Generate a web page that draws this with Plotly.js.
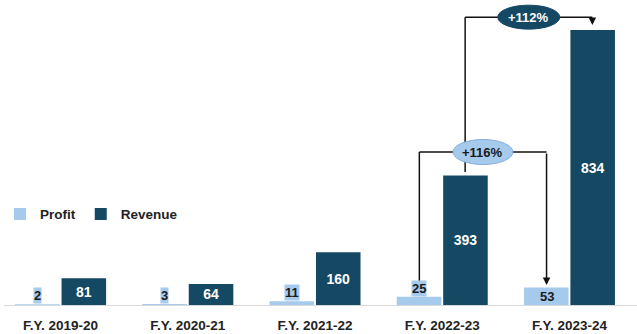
<!DOCTYPE html>
<html>
<head>
<meta charset="utf-8">
<script src="https://cdn.plot.ly/plotly-3.0.1.min.js"></script>
<style>html,body{margin:0;padding:0;background:#fff;}#chart{width:637px;height:334px;}</style>
</head>
<body>
<div id="chart"></div>
<script>
const categories = ["F.Y. 2019-20", "F.Y. 2020-21", "F.Y. 2021-22", "F.Y. 2022-23", "F.Y. 2023-24"];
const profit = [2, 3, 11, 25, 53];
const revenue = [81, 64, 160, 393, 834];
const growthLabels = ["+116%", "+112%"];

const PROFIT_COLOR = "#a6caec";
const REVENUE_COLOR = "#154963";
const FONT = "Liberation Sans, Arial, sans-serif";
const OFF = 0.18; // half-offset of grouped bars in category units

const traces = [
  {
    type: "bar", name: "Profit", x: categories, y: profit,
    marker: {color: PROFIT_COLOR}, hoverinfo: "skip"
  },
  {
    type: "bar", name: "Revenue", x: categories, y: revenue,
    marker: {color: REVENUE_COLOR},
    text: revenue.map(String), textposition: "inside", insidetextanchor: "middle",
    textangle: 0, constraintext: "none",
    textfont: {family: FONT, size: 14, color: "#ffffff", weight: "bold"},
    hoverinfo: "skip"
  }
];

const annotations = profit.map((v, i) => {
  const inside = i === profit.length - 1;
  return {
    x: i - OFF, y: inside ? 0 : v, xref: "x", yref: "y",
    text: String(v), showarrow: false, yanchor: "bottom",
    bgcolor: PROFIT_COLOR, borderpad: 0,
    font: {family: FONT, size: 13, color: "#1a1a1a", weight: "bold"}
  };
});

// bracket 1: profit 2022-23 -> profit 2023-24
const b1y = 464;
// bracket 2: revenue 2022-23 -> revenue 2023-24
const b2y = 873;

const lineStyle = {color: "#111111", width: 1.5};
const shapes = [
  {type: "line", xref: "x", yref: "y", x0: 3 - OFF, x1: 3 - OFF, y0: profit[3] + 42, y1: b1y, line: lineStyle},
  {type: "line", xref: "x", yref: "y", x0: 3 - OFF, x1: 4 - OFF, y0: b1y, y1: b1y, line: lineStyle},
  {type: "line", xref: "x", yref: "y", x0: 3 + OFF, x1: 3 + OFF, y0: revenue[3] + 10, y1: b2y, line: lineStyle},
  {type: "line", xref: "x", yref: "y", x0: 3 + OFF, x1: 4 + OFF, y0: b2y, y1: b2y, line: lineStyle},
  {type: "circle", xref: "x", yref: "y", xsizemode: "pixel", ysizemode: "pixel",
   xanchor: 3.5 - OFF, yanchor: b1y, x0: -30, x1: 30, y0: -12.5, y1: 12.5,
   fillcolor: PROFIT_COLOR, line: {color: "#7fb0dd", width: 1}},
  {type: "circle", xref: "x", yref: "y", xsizemode: "pixel", ysizemode: "pixel",
   xanchor: 3.5 + OFF, yanchor: b2y, x0: -31, x1: 31, y0: -12, y1: 12,
   fillcolor: REVENUE_COLOR, line: {color: REVENUE_COLOR, width: 1}}
];

annotations.push(
  {x: 4 - OFF, y: profit[4] + 8, xref: "x", yref: "y", ax: 4 - OFF, ay: b1y, axref: "x", ayref: "y",
   text: "", showarrow: true, arrowhead: 2, arrowsize: 1, arrowwidth: 1.5, arrowcolor: "#111111"},
  {x: 4 + OFF, y: revenue[4] + 15, xref: "x", yref: "y", ax: 4 + OFF, ay: b2y, axref: "x", ayref: "y",
   text: "", showarrow: true, arrowhead: 2, arrowsize: 1, arrowwidth: 1.5, arrowcolor: "#111111"},
  {x: 3.5 - OFF, y: b1y, xref: "x", yref: "y", text: growthLabels[0], showarrow: false,
   font: {family: FONT, size: 13, color: "#1a1a1a", weight: "bold"}},
  {x: 3.5 + OFF, y: b2y, xref: "x", yref: "y", text: growthLabels[1], showarrow: false,
   font: {family: FONT, size: 13, color: "#ffffff", weight: "bold"}}
);

const layout = {
  width: 637, height: 334,
  margin: {l: 0, r: 0, t: 0, b: 29},
  paper_bgcolor: "#ffffff", plot_bgcolor: "#ffffff",
  barmode: "group", bargap: 0.27, bargroupgap: 0.04,
  font: {family: FONT},
  xaxis: {
    type: "category", range: [-0.445, 4.531],
    showline: true, linecolor: "#d9d9d9", linewidth: 1,
    showgrid: false, zeroline: false, ticks: "", ticklabelstandoff: 8,
    tickfont: {family: FONT, size: 13.5, color: "#222222", weight: "bold"}
  },
  yaxis: {range: [0, 925], visible: false, showgrid: false, zeroline: false},
  showlegend: true,
  legend: {
    orientation: "h", x: -0.007, xanchor: "left", y: 0.298, yanchor: "middle",
    font: {family: FONT, size: 13.5, color: "#222222", weight: "bold"},
    itemwidth: 30, bgcolor: "rgba(0,0,0,0)"
  },
  shapes: shapes,
  annotations: annotations
};

Plotly.newPlot("chart", traces, layout, {displayModeBar: false, staticPlot: true});
</script>
</body>
</html>
